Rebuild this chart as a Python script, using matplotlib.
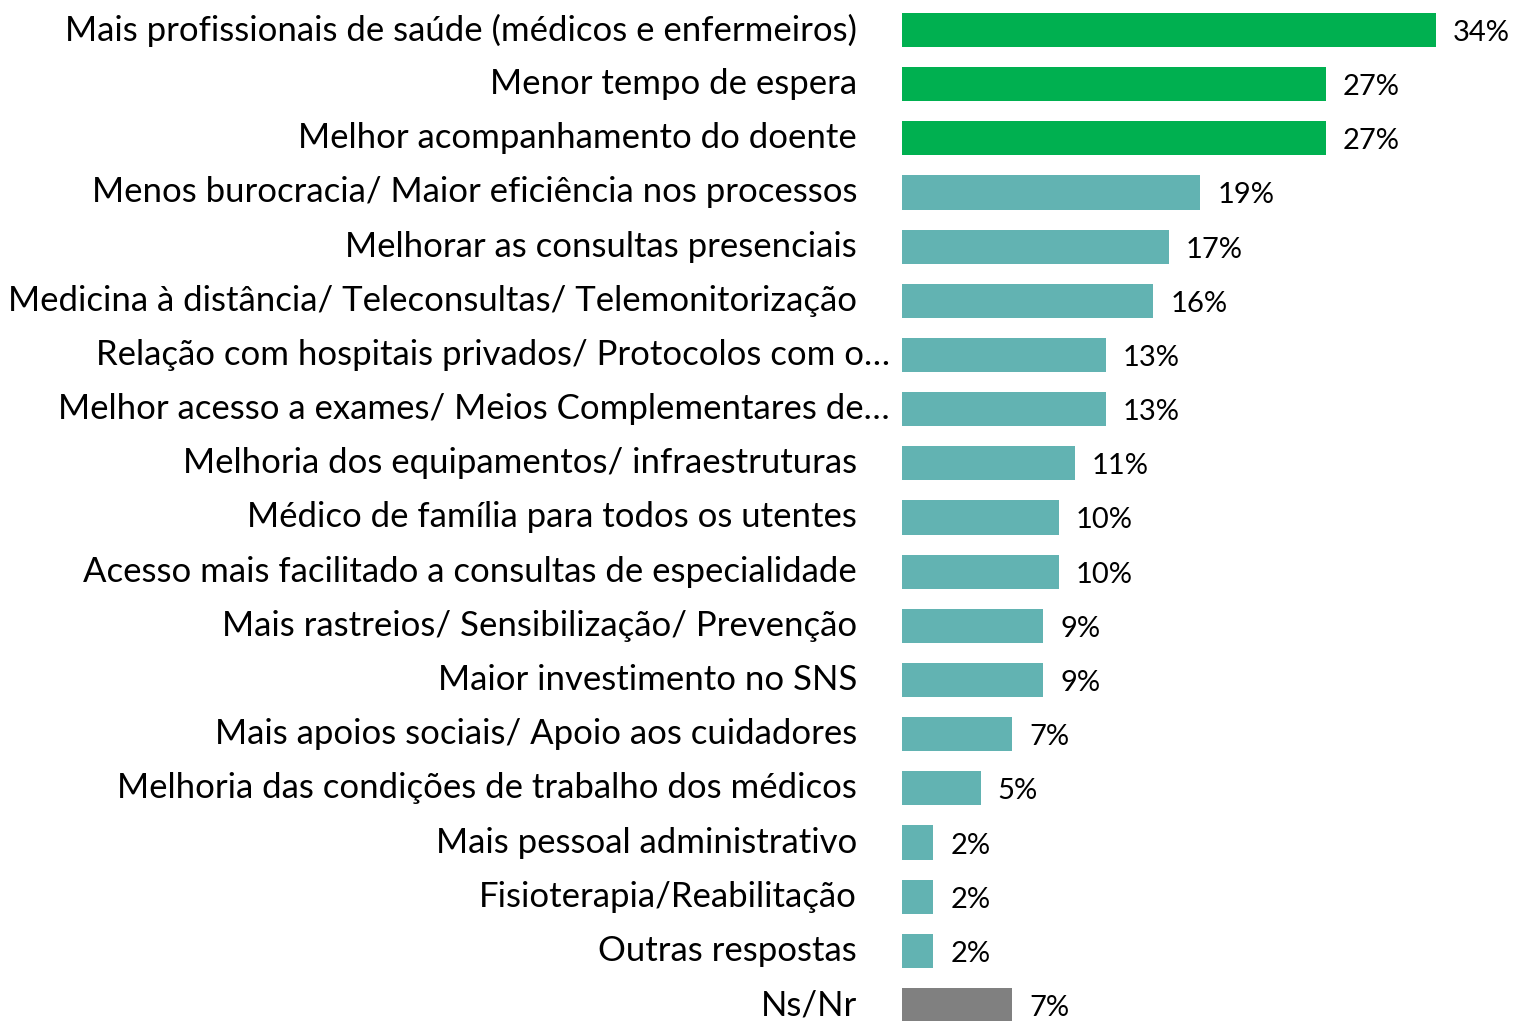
import matplotlib
matplotlib.use("Agg")
import matplotlib.pyplot as plt
from matplotlib.transforms import blended_transform_factory

plt.rcParams["font.family"] = ["Lato", "DejaVu Sans"]

categorias = [
    "Mais profissionais de saúde (médicos e enfermeiros)",
    "Menor tempo de espera",
    "Melhor acompanhamento do doente",
    "Menos burocracia/ Maior eficiência nos processos",
    "Melhorar as consultas presenciais",
    "Medicina à distância/ Teleconsultas/ Telemonitorização",
    "Relação com hospitais privados/ Protocolos com o…",
    "Melhor acesso a exames/ Meios Complementares de…",
    "Melhoria dos equipamentos/ infraestruturas",
    "Médico de família para todos os utentes",
    "Acesso mais facilitado a consultas de especialidade",
    "Mais rastreios/ Sensibilização/ Prevenção",
    "Maior investimento no SNS",
    "Mais apoios sociais/ Apoio aos cuidadores",
    "Melhoria das condições de trabalho dos médicos",
    "Mais pessoal administrativo",
    "Fisioterapia/Reabilitação",
    "Outras respostas",
    "Ns/Nr",
]
valores = [34, 27, 27, 19, 17, 16, 13, 13, 11, 10, 10, 9, 9, 7, 5, 2, 2, 2, 7]
grupos = ["top"] * 3 + ["resto"] * 15 + ["nsnr"]

cores = {"top": "#00B050", "resto": "#62B3B2", "nsnr": "#808080"}

W, H = 1519, 1021
fig = plt.figure(figsize=(W / 100, H / 100), dpi=100)
ax = fig.add_axes([902 / W, 0, 1 - 902 / W, 1])

y = list(range(len(valores)))
ax.barh(y, valores, height=0.63, color=[cores[g] for g in grupos], edgecolor="none")

ax.set_xlim(0, (W - 902) / 15.7)
ax.set_ylim(18 + 16 / 54.2, -30 / 54.2)
ax.axis("off")

# rótulos das categorias, alinhados à direita a 45 px do início das barras
trans = blended_transform_factory(fig.transFigure, ax.transData)
for i, nome in enumerate(categorias):
    xr = 890 if nome.endswith("…") else 857
    ax.text(xr / W, i, nome, transform=trans, ha="right", va="center",
            fontsize=25, color="#000000")

for i, v in enumerate(valores):
    ax.annotate(f"{v}%", (v, i), xytext=(17, -3), textcoords="offset pixels",
                ha="left", va="center", fontsize=21, color="#000000")

fig.savefig("out.png", dpi=100, facecolor="white")
